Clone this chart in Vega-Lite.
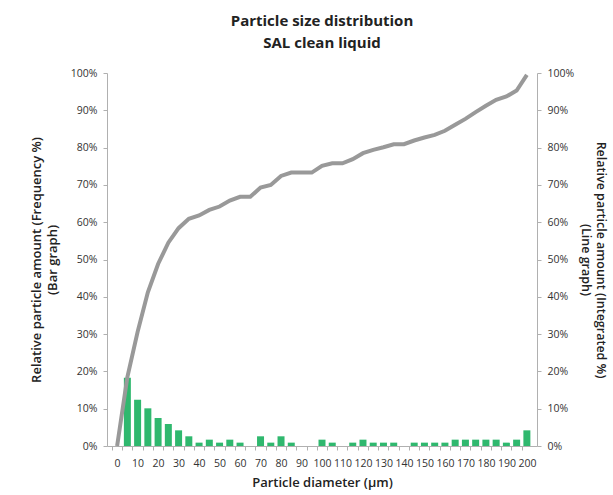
{
  "$schema": "https://vega.github.io/schema/vega-lite/v6.json",
  "width": 430,
  "height": 373,
  "autosize": "none",
  "padding": {"left": 107, "top": 73, "right": 76, "bottom": 49},
  "background": "white",
  "config": {
    "view": {"stroke": null},
    "font": "Open Sans",
    "axis": {
      "labelFont": "Open Sans",
      "titleFont": "Open Sans",
      "labelFontSize": 10.5,
      "labelColor": "#333333",
      "titleColor": "#222222",
      "domainColor": "#b0b0b0",
      "tickColor": "#b0b0b0",
      "tickSize": 4,
      "grid": false
    }
  },
  "title": {
    "text": ["Particle size distribution", "SAL clean liquid"],
    "font": "Open Sans",
    "fontSize": 15,
    "fontWeight": "bold",
    "color": "#222222",
    "lineHeight": 22,
    "offset": 16,
    "anchor": "middle"
  },
  "data": {
    "values": [
      {"d": 0, "freq": 0, "cum": 0},
      {"d": 5, "freq": 18.3, "cum": 18.5},
      {"d": 10, "freq": 12.4, "cum": 30.6},
      {"d": 15, "freq": 10.1, "cum": 41.2},
      {"d": 20, "freq": 7.5, "cum": 48.8},
      {"d": 25, "freq": 5.9, "cum": 54.5},
      {"d": 30, "freq": 4.2, "cum": 58.4},
      {"d": 35, "freq": 2.6, "cum": 60.9},
      {"d": 40, "freq": 0.9, "cum": 61.8},
      {"d": 45, "freq": 1.7, "cum": 63.3},
      {"d": 50, "freq": 0.9, "cum": 64.2},
      {"d": 55, "freq": 1.7, "cum": 65.8},
      {"d": 60, "freq": 0.9, "cum": 66.8},
      {"d": 65, "freq": 0, "cum": 66.8},
      {"d": 70, "freq": 2.6, "cum": 69.3},
      {"d": 75, "freq": 0.9, "cum": 70.0},
      {"d": 80, "freq": 2.6, "cum": 72.4},
      {"d": 85, "freq": 0.9, "cum": 73.3},
      {"d": 90, "freq": 0, "cum": 73.3},
      {"d": 95, "freq": 0, "cum": 73.3},
      {"d": 100, "freq": 1.7, "cum": 75.1},
      {"d": 105, "freq": 0.9, "cum": 75.8},
      {"d": 110, "freq": 0, "cum": 75.8},
      {"d": 115, "freq": 0.9, "cum": 76.9},
      {"d": 120, "freq": 1.7, "cum": 78.5},
      {"d": 125, "freq": 0.9, "cum": 79.4},
      {"d": 130, "freq": 0.9, "cum": 80.1},
      {"d": 135, "freq": 0.9, "cum": 80.9},
      {"d": 140, "freq": 0, "cum": 80.9},
      {"d": 145, "freq": 0.9, "cum": 81.9},
      {"d": 150, "freq": 0.9, "cum": 82.7},
      {"d": 155, "freq": 0.9, "cum": 83.4},
      {"d": 160, "freq": 0.9, "cum": 84.5},
      {"d": 165, "freq": 1.7, "cum": 86.1},
      {"d": 170, "freq": 1.7, "cum": 87.7},
      {"d": 175, "freq": 1.7, "cum": 89.5},
      {"d": 180, "freq": 1.7, "cum": 91.2},
      {"d": 185, "freq": 1.7, "cum": 92.8},
      {"d": 190, "freq": 0.9, "cum": 93.7},
      {"d": 195, "freq": 1.7, "cum": 95.3},
      {"d": 200, "freq": 4.2, "cum": 99.5}
    ]
  },
  "encoding": {
    "x": {
      "field": "d",
      "type": "quantitative",
      "scale": {"domain": [-2.5, 202.5], "nice": false, "zero": false},
      "axis": {
        "values": [0,5,10,15,20,25,30,35,40,45,50,55,60,65,70,75,80,85,90,95,100,105,110,115,120,125,130,135,140,145,150,155,160,165,170,175,180,185,190,195,200],
        "labelExpr": "datum.value % 10 == 0 ? datum.value : ''",
        "tickOffset": -5.24,
        "labelOffset": 5.24,
        "labelPadding": 8,
        "title": "Particle diameter (µm)",
        "titleFontSize": 13,
        "titleFontWeight": 600,
        "titlePadding": 8
      }
    }
  },
  "layer": [
    {
      "mark": {"type": "bar", "color": "#2fb86e", "size": 7},
      "encoding": {
        "y": {
          "field": "freq",
          "type": "quantitative",
          "scale": {"domain": [0, 100], "nice": false},
          "axis": {
            "orient": "left",
            "values": [0,10,20,30,40,50,60,70,80,90,100],
            "labelExpr": "datum.value + '%'",
            "labelPadding": 6,
            "title": ["Relative particle amount (Frequency %)", "(Bar graph)"],
            "titleFontSize": 13,
            "titleFontWeight": 600,
            "titlePadding": 11,
            "titleLineHeight": 16
          }
        }
      }
    },
    {
      "mark": {"type": "line", "color": "#999999", "strokeWidth": 4, "strokeCap": "butt"},
      "encoding": {
        "y": {
          "field": "cum",
          "type": "quantitative",
          "scale": {"domain": [0, 100], "nice": false},
          "axis": {
            "orient": "right",
            "values": [0,10,20,30,40,50,60,70,80,90,100],
            "labelExpr": "datum.value + '%'",
            "labelPadding": 6,
            "title": ["Relative particle amount (Integrated %)", "(Line graph)"],
            "titleFontSize": 12.5,
            "titleFontWeight": 600,
            "titlePadding": 5,
            "titleLineHeight": 15
          }
        }
      }
    }
  ],
  "resolve": {"scale": {"y": "independent"}}
}
